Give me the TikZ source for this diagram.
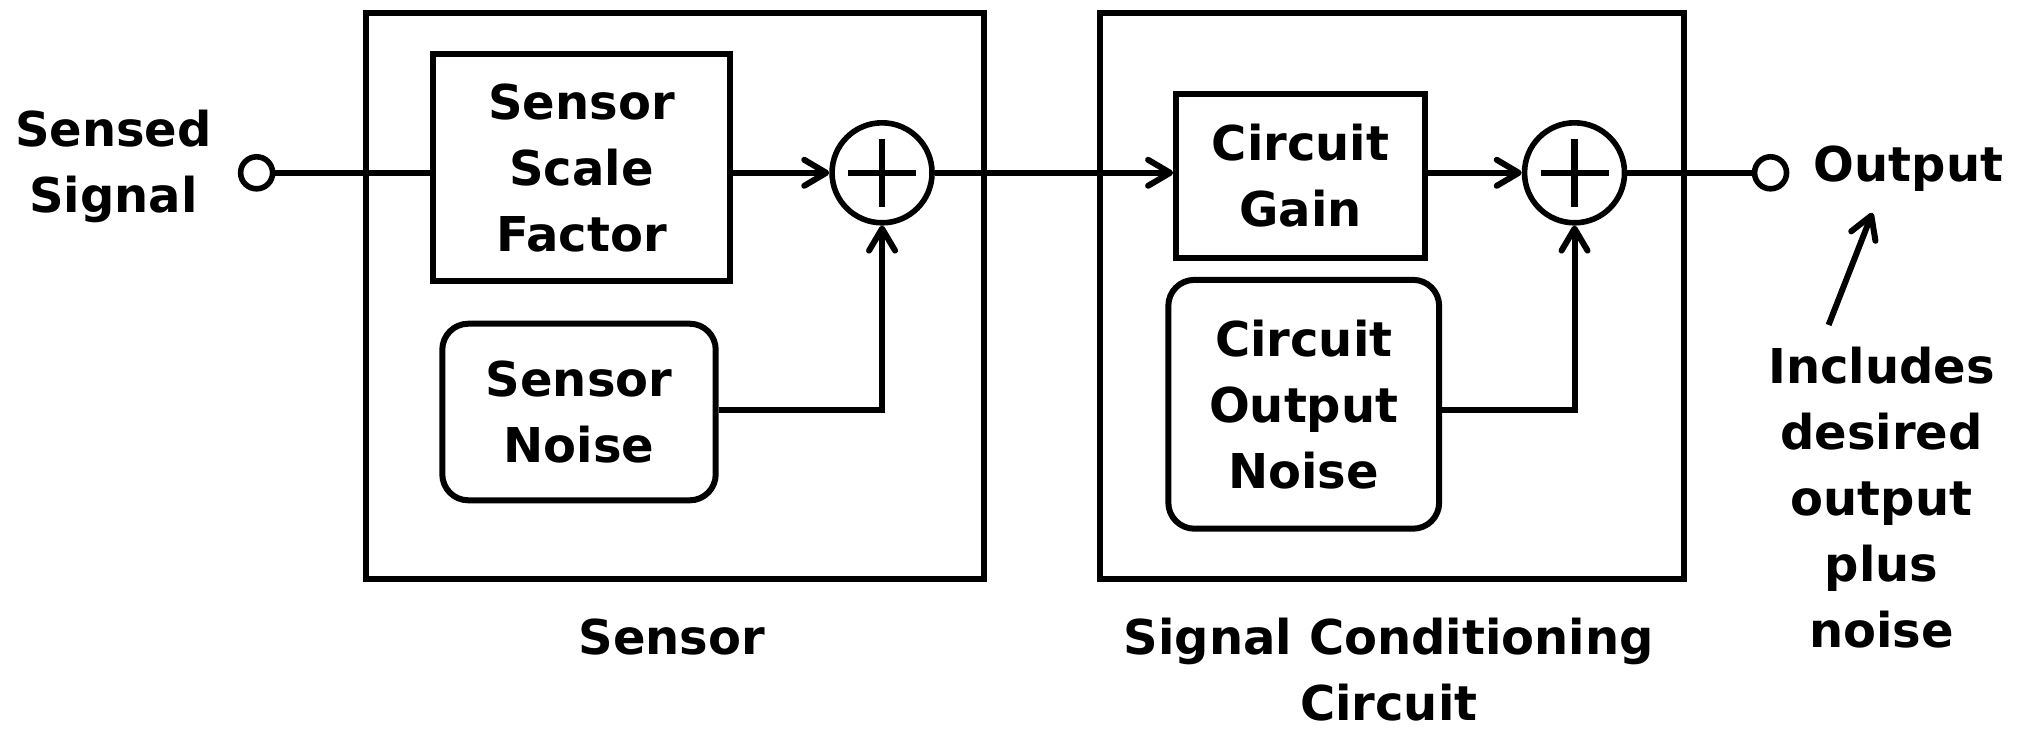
\documentclass[tikz,border=0pt]{standalone}
\usepackage{fontspec}
\setmainfont{DejaVu Sans}
\usetikzlibrary{arrows.meta}
\begin{document}
\begin{tikzpicture}[x=0.64475pt,y=-0.64475pt,
  every node/.style={font=\bfseries\fontsize{24}{33}\selectfont, align=center, inner sep=0pt},
  blk/.style={draw, line width=3pt},
  rblk/.style={draw, line width=3pt, rounded corners=13pt},
  outer/.style={draw, line width=3pt},
  sumnode/.style={draw, circle, line width=2.8pt, minimum size=50pt},
  term/.style={draw, circle, line width=2.8pt, minimum size=16pt, fill=white},
  wire/.style={line width=3pt},
  arr/.style={line width=3pt, -{Straight Barb[length=11pt,width=13pt,line width=3pt,round]}}
]
\useasboundingbox (0,0) rectangle (1568,565);
% outer boxes
\node[outer, minimum width=308.8pt, minimum height=283pt] (sensorbox) at (523.5,229.5) {};
\node[outer, minimum width=292.1pt, minimum height=283pt] (scbox) at (1079.5,229.5) {};
% blocks
\node[blk, minimum width=148.3pt, minimum height=113.5pt] (ssf) at (451,130) {Sensor\\Scale\\Factor};
\node[rblk, minimum width=136.7pt, minimum height=88.3pt] (sn) at (449,319.5) {Sensor\\Noise};
\node[blk, minimum width=124.4pt, minimum height=81.9pt] (cg) at (1008.5,136.5) {Circuit\\Gain};
\node[rblk, minimum width=135.4pt, minimum height=124.4pt] (con) at (1011,313.5) {Circuit\\Output\\Noise};
% summing junctions
\node[sumnode] (sum1) at (684,134) {};
\node[sumnode] (sum2) at (1221,134) {};
\foreach \s in {sum1,sum2}{
  \draw[line width=3.2pt] ([xshift=-17pt]\s.center) -- ([xshift=17pt]\s.center);
  \draw[line width=3.2pt] ([yshift=-17pt]\s.center) -- ([yshift=17pt]\s.center);
}
% terminals
\node[term] (in) at (199,134) {};
\node[term] (out) at (1373,134) {};
% labels
\node (lin) at (88,129) {Sensed\\Signal};
\node (lout) at (1480,131) {Output};
\node (note) at (1459,386) {Includes\\desired\\output\\plus\\noise};
\node (lsensor) at (521,494) {Sensor};
\node (lsc) at (1077,519.5) {Signal Conditioning\\Circuit};
% connectors
\draw[wire] (in.east) -- (ssf.west |- in.east);
\draw[arr] (ssf.east |- sum1.west) -- (sum1.west);
\draw[arr] (sn.east |- 0,318) -| (sum1.south);
\draw[arr] (sum1.east) -- (cg.west |- sum1.east);
\draw[arr] (cg.east |- sum2.west) -- (sum2.west);
\draw[arr] (con.east |- 0,318) -| (sum2.south);
\draw[wire] (sum2.east) -- (out.west);
\coordinate (nstart) at (1418,252);
\coordinate (nend) at (1452,165);
\draw[arr] (nstart) -- (nend);
\end{tikzpicture}
\end{document}
